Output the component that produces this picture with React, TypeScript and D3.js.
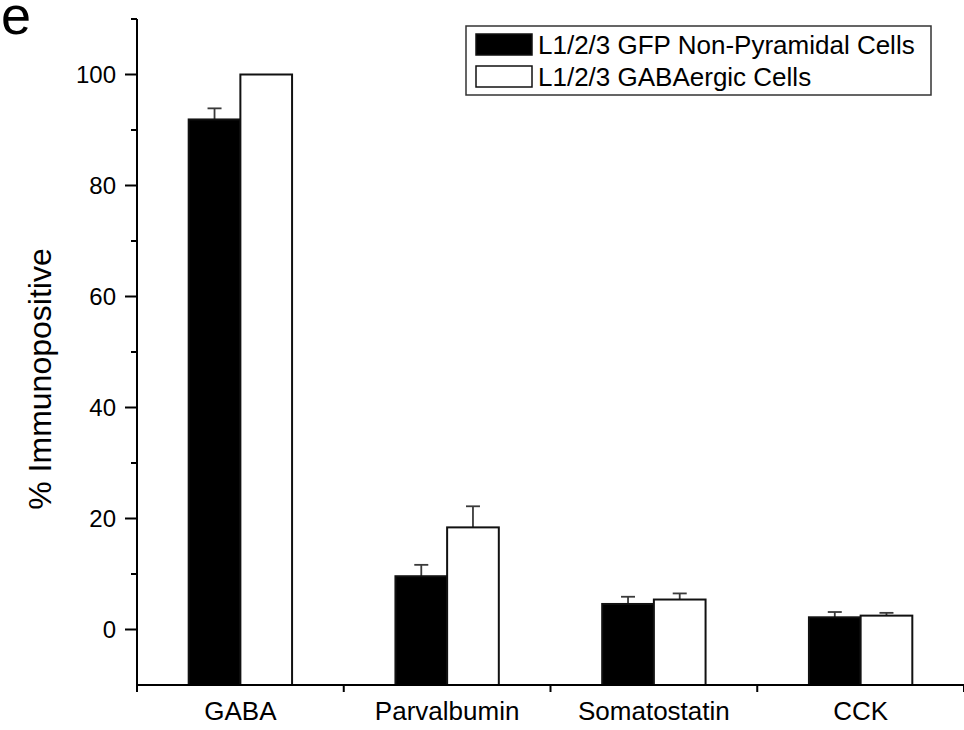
import React from "react";
import * as d3 from "d3";

const categories = ["GABA", "Parvalbumin", "Somatostatin", "CCK"];
const seriesNames = ["L1/2/3 GFP Non-Pyramidal Cells", "L1/2/3 GABAergic Cells"];
const gfpValues = [91.9, 9.6, 4.6, 2.2];
const gfpErrors = [2.0, 2.05, 1.3, 0.95];
const gabaValues = [100, 18.4, 5.4, 2.5];
const gabaErrors = [0, 3.8, 1.1, 0.5];
const yMajorTicks = [0, 20, 40, 60, 80, 100];
const yMinorTicks = [10, 30, 50, 70, 90, 110];

const W = 964;
const H = 730;
const left = 137;
const right = 964;
const top = 19;
const bottom = 685;
const FONT = "'Liberation Sans', Arial, Helvetica, sans-serif";

export default function App() {
  const x = d3.scaleBand<string>().domain(categories).range([left, right]).paddingInner(0).paddingOuter(0);
  const bw = x.bandwidth();
  const xs = d3.scaleBand<string>().domain(seriesNames).range([bw * 0.25, bw * 0.75]);
  const y = d3.scaleLinear().domain([-10, 110]).range([bottom, top]);
  const fills = ["#000", "#fff"];
  const values = [gfpValues, gabaValues];
  const errors = [gfpErrors, gabaErrors];
  const boundaries = categories.map((c) => x(c) as number).concat([right]);

  return (
    <svg width={W} height={H} style={{ position: "absolute", left: 0, top: 0, background: "#fff" }} fontFamily={FONT}>
      <rect x={0} y={0} width={W} height={H} fill="#fff" />
      <text x={1} y={34} fontSize={54}>e</text>

      {/* bars */}
      {seriesNames.map((s, si) =>
        categories.map((c, ci) => {
          const bx = (x(c) as number) + (xs(s) as number);
          const v = values[si][ci];
          const e = errors[si][ci];
          const cx = bx + xs.bandwidth() / 2;
          return (
            <g key={s + c}>
              {e > 0 && (
                <g stroke="#3a3a3a" strokeWidth={1.8}>
                  <line x1={cx} x2={cx} y1={y(v)} y2={y(v + e)} />
                  <line x1={cx - 7} x2={cx + 7} y1={y(v + e)} y2={y(v + e)} />
                </g>
              )}
              <rect
                x={bx}
                y={y(v)}
                width={xs.bandwidth()}
                height={y(-10) - y(v)}
                fill={fills[si]}
                stroke="#111"
                strokeWidth={2}
              />
            </g>
          );
        })
      )}

      {/* y axis */}
      <line x1={left} x2={left} y1={top} y2={bottom} stroke="#000" strokeWidth={2} />
      {yMajorTicks.map((t) => (
        <g key={"M" + t}>
          <line x1={left - 12} x2={left} y1={y(t)} y2={y(t)} stroke="#000" strokeWidth={2} />
          <text x={left - 21} y={y(t)} dy="0.35em" textAnchor="end" fontSize={24}>{t}</text>
        </g>
      ))}
      {yMinorTicks.map((t) => (
        <line key={"m" + t} x1={left - 6} x2={left} y1={y(t)} y2={y(t)} stroke="#000" strokeWidth={2} />
      ))}
      <text transform={`translate(51, 379) rotate(-90)`} textAnchor="middle" fontSize={32}>% Immunopositive</text>

      {/* x axis */}
      <line x1={left - 1} x2={right} y1={bottom} y2={bottom} stroke="#000" strokeWidth={2} />
      {boundaries.map((b, i) => (
        <line key={"xb" + i} x1={b} x2={b} y1={bottom} y2={bottom + 7} stroke="#000" strokeWidth={2} />
      ))}
      {categories.map((c) => (
        <text key={"xl" + c} x={(x(c) as number) + bw / 2} y={720} textAnchor="middle" fontSize={26}>{c}</text>
      ))}

      {/* legend */}
      <rect x={466} y={26} width={465} height={69} fill="#fff" stroke="#333" strokeWidth={1.5} />
      {seriesNames.map((s, i) => (
        <g key={"lg" + s}>
          <rect x={476} y={34 + i * 32} width={56} height={21} fill={fills[i]} stroke="#111" strokeWidth={1.5} />
          <text x={538} y={54 + i * 32} fontSize={26}>{s}</text>
        </g>
      ))}
    </svg>
  );
}
